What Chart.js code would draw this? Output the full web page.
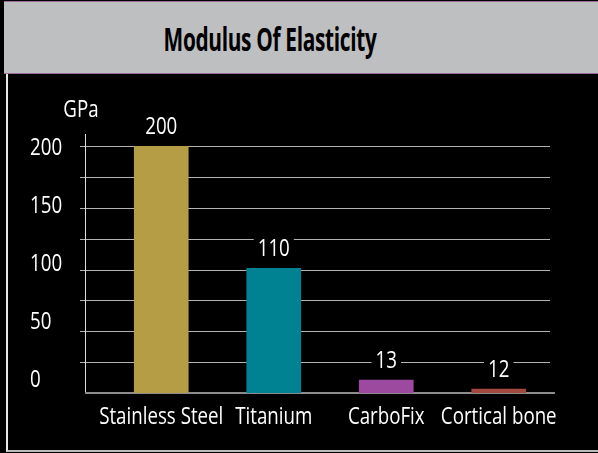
<!DOCTYPE html>
<html>
<head>
<meta charset="utf-8">
<script src="https://cdn.jsdelivr.net/npm/chart.js@4/dist/chart.umd.min.js"></script>
<style>
    html, body { margin: 0; padding: 0; background: #000; }
    body { width: 598px; height: 453px; position: relative; overflow: hidden; }
    #titlebar {
        position: absolute; left: 4px; top: 1px; width: 594px; height: 71px;
        background: #bebfc1; border-top: 1px solid #9b6c9c; border-bottom: 1px solid #9b6c9c;
    }
    #titlebar span {
        position: absolute; left: 266px; top: 15px; white-space: nowrap;
        font: bold 32px "Open Sans", "Noto Sans", sans-serif; letter-spacing: -0.5px;
        color: #000; transform-origin: 50% 50%;
    }
    #frame {
        position: absolute; left: 6px; top: 74px; width: 600px; height: 376px;
        border-left: 2px solid #e8e8e8; border-bottom: 2px solid #bbbbbb;
    }
    #wrap { position: absolute; left: 0; top: 74px; width: 598px; height: 379px; }
</style>
</head>
<body>
<div id="titlebar"><span id="title">Modulus Of Elasticity</span></div>
<div id="frame"></div>
<div id="wrap"><canvas id="chart"></canvas></div>
<script>
"use strict";

const categories = ["Stainless Steel", "Titanium", "CarboFix", "Cortical bone"];
// bar heights as drawn in the picture (GPa)
const barValues = [200, 101, 10.5, 3.2];
// numbers printed above the bars
const valueLabels = ["200", "110", "13", "12"];
const barColors = ["#b59d45", "#008292", "#9b4a9f", "#a34a40"];
const yTicks = [0, 50, 100, 150, 200];
const unitLabel = "GPa";

const fontFamily = "'Open Sans', 'Noto Sans', sans-serif";
const squeeze = 0.78;

// condense the title to the width of the original
let title = document.getElementById("title");
let tw = title.offsetWidth;
title.style.transform = "translateX(-50%) scaleX(" + (213 / tw) + ")";

function narrowText(ctx, text, x, y, align) {
    ctx.save();
    ctx.translate(x, y);
    ctx.scale(squeeze, 1);
    ctx.textAlign = align;
    ctx.fillText(text, 0, 0);
    ctx.restore();
}

let decorPlugin = {
    id: "decor",
    beforeDatasetsDraw: function (chart) {
        let ctx = chart.ctx;
        let y = chart.scales.y;
        let area = chart.chartArea;
        ctx.save();
        // gridlines every 25
        ctx.strokeStyle = "#b4b4b4";
        ctx.lineWidth = 1;
        for (let v = 25; v <= 200; v += 25) {
            let py = Math.round(y.getPixelForValue(v)) + 0.5;
            ctx.beginPath();
            ctx.moveTo(area.left - 25, py);
            ctx.lineTo(area.right - 5, py);
            ctx.stroke();
        }
        // y axis line
        ctx.strokeStyle = "#dddddd";
        ctx.beginPath();
        ctx.moveTo(area.left - 19.5, y.getPixelForValue(200) - 12);
        ctx.lineTo(area.left - 19.5, y.getPixelForValue(0));
        ctx.stroke();
        // baseline
        ctx.strokeStyle = "#8c8c8c";
        ctx.lineWidth = 2;
        let by = y.getPixelForValue(0);
        ctx.beginPath();
        ctx.moveTo(area.left - 20, by);
        ctx.lineTo(area.right, by);
        ctx.stroke();

        ctx.fillStyle = "#ffffff";
        ctx.font = "24px " + fontFamily;
        ctx.textBaseline = "middle";
        // unit
        narrowText(ctx, unitLabel, area.left - 24, y.getPixelForValue(200) - 36, "center");
        // y tick labels (spread a little tighter than the grid, as in the original)
        let top = y.getPixelForValue(200) + 2;
        let bottom = y.getPixelForValue(0) - 13;
        yTicks.forEach(function (v) {
            let py = top + (bottom - top) * (200 - v) / 200;
            narrowText(ctx, String(v), 30, py, "left");
        });
        // category labels
        let x = chart.scales.x;
        categories.forEach(function (c, i) {
            narrowText(ctx, c, x.getPixelForTick(i), area.bottom + 24, "center");
        });
        ctx.restore();
    },
    afterDatasetsDraw: function (chart) {
        let ctx = chart.ctx;
        let meta = chart.getDatasetMeta(0);
        ctx.save();
        ctx.font = "24px " + fontFamily;
        ctx.textBaseline = "middle";
        meta.data.forEach(function (bar, i) {
            let text = valueLabels[i];
            let w = ctx.measureText(text).width * squeeze + 8;
            let mid = bar.y - 19;
            ctx.fillStyle = "#000000";
            ctx.fillRect(bar.x - w / 2, mid - 11, w, 22);
            ctx.fillStyle = "#ffffff";
            narrowText(ctx, text, bar.x, mid, "center");
        });
        ctx.restore();
    }
};

let ctx = document.getElementById("chart").getContext("2d");
let chart = new Chart(ctx, {
    type: "bar",
    data: {
        labels: categories,
        datasets: [{
            data: barValues,
            backgroundColor: barColors,
            borderWidth: 0,
            barThickness: 54
        }]
    },
    options: {
        responsive: true,
        maintainAspectRatio: false,
        animation: false,
        layout: { padding: { left: 30, right: 43, top: 72, bottom: 23 } },
        plugins: {
            legend: { display: false },
            tooltip: { enabled: false },
            title: { display: false }
        },
        scales: {
            x: {
                afterFit: function (scale) { scale.height = 37; },
                grid: { display: false, drawTicks: false },
                border: { display: false },
                ticks: { display: false }
            },
            y: {
                min: 0,
                max: 200,
                afterFit: function (scale) { scale.width = 75; },
                grid: { display: false, drawTicks: false },
                border: { display: false },
                ticks: { display: false, stepSize: 50 }
            }
        }
    },
    plugins: [decorPlugin]
});
</script>
</body>
</html>
